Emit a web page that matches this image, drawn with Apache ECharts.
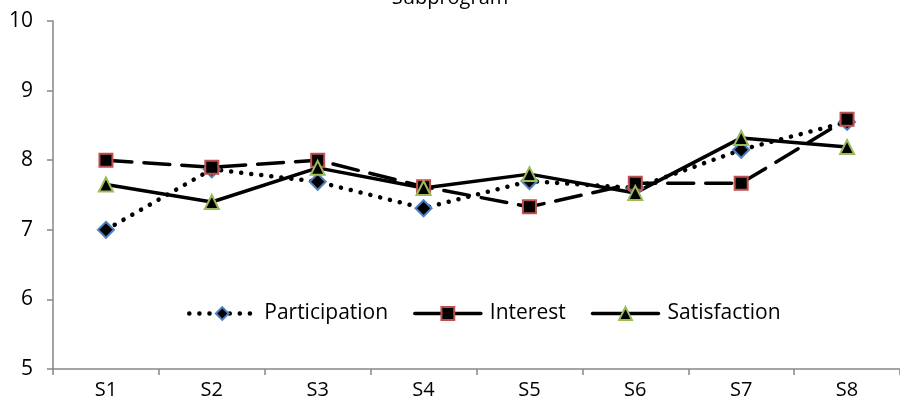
<!DOCTYPE html>
<html>
<head>
<meta charset="utf-8">
<script src="https://cdn.jsdelivr.net/npm/echarts@6/dist/echarts.min.js"></script>
<style>
  html, body { margin: 0; padding: 0; background: #ffffff; }
  #chart { width: 900px; height: 406px; }
</style>
</head>
<body>
<div id="chart"></div>
<script>
// Subprogram ratings per session
const categories = ['S1', 'S2', 'S3', 'S4', 'S5', 'S6', 'S7', 'S8'];
const participation = [7.0, 7.87, 7.69, 7.31, 7.7, 7.6, 8.15, 8.55];
const interest = [8.0, 7.9, 8.0, 7.62, 7.33, 7.67, 7.67, 8.59];
const satisfaction = [7.65, 7.4, 7.89, 7.6, 7.8, 7.53, 8.32, 8.19];
const yTicks = [5, 6, 7, 8, 9, 10];

const FONT = '"Open Sans", "Noto Sans", sans-serif';
const AXIS_GRAY = '#868686';

const styles = {
  Participation: { dash: [0.1, 10], width: 4.5, symbol: 'diamond', size: 16, border: '#4F81BD' },
  Interest: { dash: [26, 12], width: 3.5, symbol: 'rect', size: 13, border: '#C0504D' },
  Satisfaction: { dash: 'solid', width: 3.5, symbol: 'triangle', size: 14, border: '#9BBB59' }
};

const chart = echarts.init(document.getElementById('chart'), null, { renderer: 'canvas' });

function lineSeries(name, data) {
  const s = styles[name];
  return {
    name: name,
    type: 'line',
    data: data,
    symbol: s.symbol,
    symbolSize: s.size,
    showAllSymbol: true,
    lineStyle: { color: '#000000', width: s.width, type: s.dash, cap: 'round' },
    itemStyle: { color: '#000000', borderColor: s.border, borderWidth: 2 },
    emphasis: { disabled: true },
    animation: false
  };
}

function legendItem(name, dash) {
  const s = styles[name];
  return {
    name: name,
    itemStyle: { color: '#000000', borderColor: s.border, borderWidth: 2 },
    lineStyle: { color: '#000000', width: s.width, type: dash, cap: 'round' }
  };
}

chart.setOption({
  backgroundColor: '#ffffff',
  animation: false,
  title: {
    text: 'Subprogram',
    left: 'center',
    top: -17,
    textStyle: { fontFamily: FONT, fontSize: 20, fontWeight: 'normal', color: '#000000' }
  },
  grid: { left: 53, top: 21, width: 854, height: 348, containLabel: false },
  legend: {
    left: 182,
    top: 298,
    itemWidth: 66,
    itemHeight: 16,
    itemGap: 25,
    textStyle: { fontFamily: FONT, fontSize: 21, color: '#000000', padding: [0, 0, 0, 4] },
    data: [
      legendItem('Participation', [0.1, 10]),
      legendItem('Interest', 'solid'),
      legendItem('Satisfaction', 'solid')
    ]
  },
  xAxis: {
    type: 'category',
    data: categories,
    boundaryGap: true,
    axisLine: { lineStyle: { color: AXIS_GRAY, width: 1.5 } },
    axisTick: { show: true, inside: false, length: 6, alignWithLabel: false, lineStyle: { color: AXIS_GRAY, width: 1.5 } },
    axisLabel: { fontFamily: FONT, fontSize: 20, color: '#000000', margin: 11 },
    splitLine: { show: false }
  },
  yAxis: {
    type: 'value',
    min: yTicks[0],
    max: yTicks[yTicks.length - 1],
    interval: 1,
    axisLine: { show: true, lineStyle: { color: AXIS_GRAY, width: 1.5 } },
    axisTick: { show: true, inside: false, length: 6, lineStyle: { color: AXIS_GRAY, width: 1.5 } },
    axisLabel: { fontFamily: FONT, fontSize: 21, color: '#000000', margin: 20 },
    splitLine: { show: false }
  },
  series: [
    lineSeries('Participation', participation),
    lineSeries('Interest', interest),
    lineSeries('Satisfaction', satisfaction)
  ]
});
</script>
</body>
</html>
